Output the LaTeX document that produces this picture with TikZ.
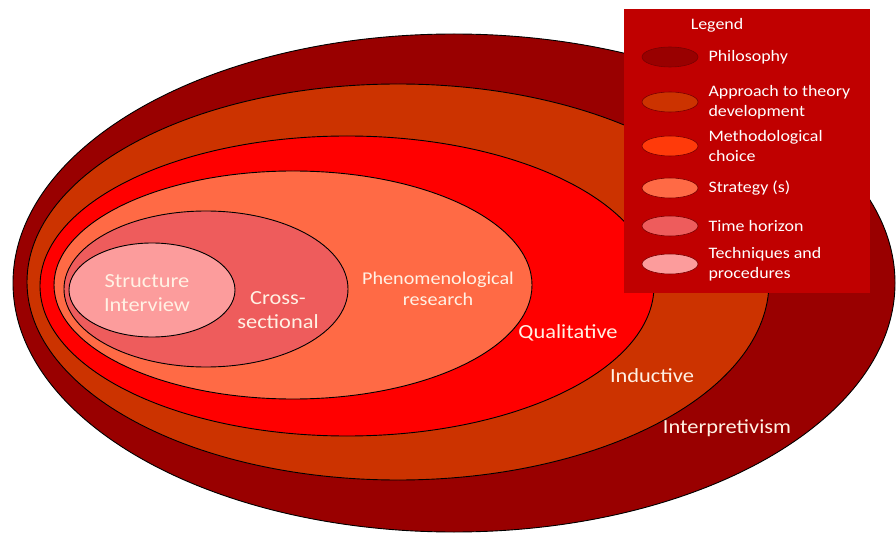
\documentclass[tikz,border=0pt]{standalone}
\usepackage{fontspec}
\setmainfont{Carlito}[FakeStretch=1.12]
\usepackage{tikz}
\usetikzlibrary{positioning}
\definecolor{philRed}{HTML}{990000}
\definecolor{apprOrange}{HTML}{CC3300}
\definecolor{methRed}{HTML}{FF0000}
\definecolor{methKey}{HTML}{FF3A0A}
\definecolor{stratSalmon}{HTML}{FF6A45}
\definecolor{timeRose}{HTML}{EE5C5C}
\definecolor{techPink}{HTML}{FC9C9C}
\definecolor{legendRed}{HTML}{C00000}
\definecolor{keyEdge}{HTML}{7A0000}
\definecolor{labelCream}{HTML}{FFF1E4}

\begin{document}
\begin{tikzpicture}[x=1pt, y=-1pt,
    ring/.style={draw=black, line width=0.9pt},
    ringlabel/.style={text=labelCream, align=center, font=\fontsize{20}{24}\selectfont},
    keylabel/.style={text=white, anchor=west, align=left, font=\fontsize{16}{20}\selectfont}]
  \useasboundingbox (0,0) rectangle (896,534);
  \draw[ring, fill=philRed] (454,283) ellipse [x radius=441, y radius=249];
  \draw[ring, fill=apprOrange] (398,282) ellipse [x radius=371, y radius=198];
  \draw[ring, fill=methRed] (347,286) ellipse [x radius=307, y radius=150];
  \draw[ring, fill=stratSalmon] (293,285) ellipse [x radius=239, y radius=114];
  \draw[ring, fill=timeRose] (206,289) ellipse [x radius=142, y radius=78];
  \draw[ring, fill=techPink] (152,290) ellipse [x radius=83, y radius=47];

  \node[ringlabel] (techLbl) at (147,293) {Structure\\Interview};
  \node[ringlabel] (timeLbl) at (278,310) {Cross-\\sectional};
  \node[ringlabel, font=\fontsize{18}{21}\selectfont] (stratLbl) at (438,289) {Phenomenological\\research};
  \node[ringlabel] (methLbl) at (568,333) {Qualitative};
  \node[ringlabel] (apprLbl) at (652,376) {Inductive};
  \node[ringlabel] (philLbl) at (727,428) {Interpretivism};

  \fill[legendRed] (624,9) rectangle (870,293);
  \node[text=white, font=\fontsize{16}{19}\selectfont] (legendTitle) at (717,25) {Legend};
  \foreach \i/\ky/\col/\txt in {1/57/philRed/Philosophy,
      2/102/apprOrange/{Approach to theory\\development},
      3/146/methKey/{Methodological\\choice},
      4/188/stratSalmon/Strategy (s),
      5/226/timeRose/Time horizon,
      6/264/techPink/{Techniques and\\procedures}} {
    \draw[draw=keyEdge, line width=0.6pt, fill=\col] (670,\ky) ellipse [x radius=28, y radius=10];
    \node[keylabel] (key\i) at (705,\ky) {\txt};
  }
\end{tikzpicture}
\end{document}
